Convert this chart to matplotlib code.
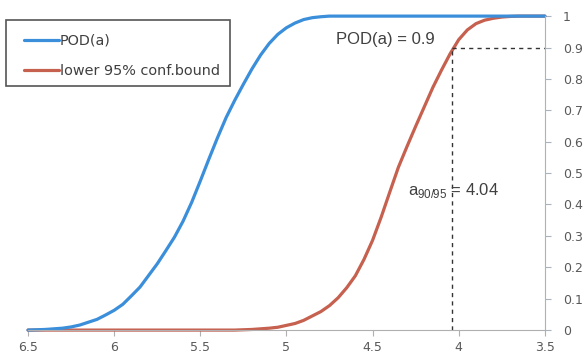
import matplotlib.pyplot as plt
from matplotlib.patches import Rectangle

# values (flaw size a, axis runs right to left)
a_values = [6.5, 6.45, 6.4, 6.35, 6.3, 6.25, 6.2, 6.15, 6.1, 6.05,
            6.0, 5.95, 5.9, 5.85, 5.8, 5.75, 5.7, 5.65, 5.6, 5.55,
            5.5, 5.45, 5.4, 5.35, 5.3, 5.25, 5.2, 5.15, 5.1, 5.05,
            5.0, 4.95, 4.9, 4.85, 4.8, 4.75, 4.7, 4.65, 4.6, 4.55,
            4.5, 4.45, 4.4, 4.35, 4.3, 4.25, 4.2, 4.15, 4.1, 4.05,
            4.0, 3.95, 3.9, 3.85, 3.8, 3.75, 3.7, 3.65, 3.6, 3.55, 3.5]
pod = [0.0, 0.001, 0.002, 0.004, 0.006, 0.010, 0.016, 0.025, 0.034, 0.048,
       0.063, 0.082, 0.109, 0.137, 0.174, 0.211, 0.253, 0.296, 0.347, 0.407,
       0.475, 0.545, 0.613, 0.677, 0.732, 0.783, 0.832, 0.876, 0.913, 0.942,
       0.963, 0.978, 0.989, 0.995, 0.998, 1.0, 1.0, 1.0, 1.0, 1.0,
       1.0, 1.0, 1.0, 1.0, 1.0, 1.0, 1.0, 1.0, 1.0, 1.0,
       1.0, 1.0, 1.0, 1.0, 1.0, 1.0, 1.0, 1.0, 1.0, 1.0, 1.0]
lower_bound = [0.0, 0.0, 0.0, 0.0, 0.0, 0.0, 0.0, 0.0, 0.0, 0.0,
               0.0, 0.0, 0.0, 0.0, 0.0, 0.0, 0.0, 0.0, 0.0, 0.0,
               0.0, 0.0, 0.0, 0.0, 0.0, 0.001, 0.002, 0.004, 0.006, 0.009,
               0.015, 0.021, 0.031, 0.045, 0.059, 0.078, 0.103, 0.135, 0.173, 0.225,
               0.286, 0.36, 0.44, 0.519, 0.585, 0.649, 0.711, 0.773, 0.828, 0.88,
               0.925, 0.956, 0.976, 0.987, 0.993, 0.997, 0.999, 1.0, 1.0, 1.0, 1.0]
a90_95 = 4.04
pod_level = 0.9
x_ticks = [6.5, 6, 5.5, 5, 4.5, 4, 3.5]
y_ticks = [0, 0.1, 0.2, 0.3, 0.4, 0.5, 0.6, 0.7, 0.8, 0.9, 1]

BLUE = '#3b8fda'
RED = '#c6604f'
TXT = '#404040'
TICK = '#595959'

W, H = 584, 358
fig = plt.figure(figsize=(W / 100, H / 100), dpi=100)
ax = fig.add_axes([0.048, 0.078, 0.885, 0.877])

ax.plot(a_values, pod, color=BLUE, lw=2.3, label='POD(a)', clip_on=False,
        solid_capstyle='round', solid_joinstyle='round')
ax.plot(a_values, lower_bound, color=RED, lw=2.3, label='lower 95% conf.bound', clip_on=False,
        solid_capstyle='round', solid_joinstyle='round', zorder=1.9)

# a90/95 guide lines
ax.plot([a90_95, a90_95], [0, pod_level], color='#333333', lw=1, ls=(0, (3, 3)))
ax.plot([a90_95, 3.5], [pod_level, pod_level], color='#333333', lw=1, ls=(0, (3, 3)))

ax.text(4.71, 0.925, 'POD(a) = 0.9', fontsize=12, color=TXT, family='Liberation Sans',
        va='center', ha='left')
ax.text(4.295, 0.445, r'a$_{\mathregular{90/95}}$ = 4.04', fontsize=12, color=TXT,
        family='Liberation Sans', va='center', ha='left')

ax.set_xlim(6.5, 3.5)
ax.set_ylim(0, 1)
ax.set_xticks(x_ticks)
ax.set_xticklabels([f'{v:g}' for v in x_ticks])
ax.set_yticks(y_ticks)
ax.set_yticklabels([f'{v:g}' for v in y_ticks])
ax.yaxis.tick_right()

for side in ['top', 'left']:
    ax.spines[side].set_visible(False)
ax.spines['right'].set_color('#aab4be')
ax.spines['bottom'].set_color('#b0b0b0')
ax.tick_params(axis='y', direction='out', length=4, color='#aab4be', labelcolor=TICK,
               labelsize=9, pad=9)
ax.tick_params(axis='x', direction='out', length=4, color='#b0b0b0', labelcolor=TICK,
               labelsize=9, pad=4)

# legend without its own frame, box drawn separately to get the padding right
leg = ax.legend(loc='upper left', bbox_to_anchor=(24 / W, 1 - 34 / H),
                bbox_transform=fig.transFigure, fontsize=10.4, frameon=False,
                handlelength=2.4, handletextpad=0.1, labelspacing=1.1,
                borderpad=0, borderaxespad=0, labelcolor=TXT)
fig.patches.append(Rectangle((6 / W, 1 - 86 / H), 224 / W, 66 / H, transform=fig.transFigure,
                             fill=False, edgecolor='#555555', lw=1.2))

fig.savefig('out.png', dpi=100)
